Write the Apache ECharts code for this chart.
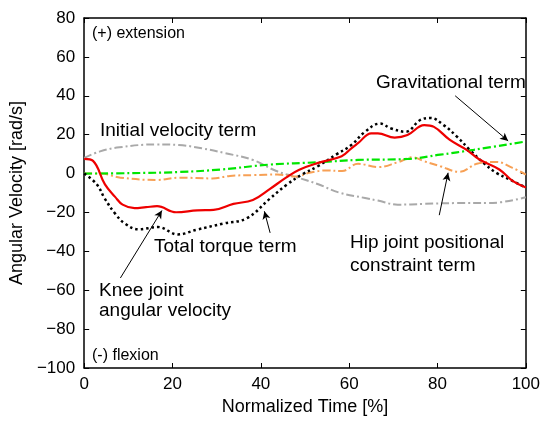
<!DOCTYPE html>
<html>
<head>
<meta charset="utf-8">
<script src="https://cdn.jsdelivr.net/npm/echarts@6/dist/echarts.min.js"></script>
<style>
  html, body { margin: 0; padding: 0; background: #fff; }
  #main { width: 543px; height: 421px; }
</style>
</head>
<body>
<div id="main"></div>
<script>
// knee joint angular velocity (red)
var kneeT = [0, 2, 4.7, 7, 8.7, 11.4, 14, 16.5, 20.8, 25.6, 29.3, 33.8, 38.2, 42, 45.7, 48.7, 53, 58.3, 60.5, 62, 65, 66.5, 70.3, 73.2, 77, 79.2, 82.8, 86.6, 89.5, 94, 97, 100];
var kneeV = [7.5, 6.5, -5.6, -12, -16, -17.8, -17.3, -16.8, -19.9, -18.9, -18.7, -15.6, -13.6, -8, -2.1, 2, 5.5, 8.9, 13, 15.6, 20.7, 20.7, 18.5, 19.8, 24.9, 24, 17.3, 12.2, 7.2, 2.1, -3.8, -7.2];
// total torque term (black dotted)
var torqueT = [0, 2.8, 4.7, 7, 9.2, 12.3, 16.7, 21.2, 25.6, 31.5, 36.8, 42, 45.7, 49.4, 53, 57, 60.5, 63.5, 67, 69.5, 72.8, 76, 78.4, 81.4, 84.4, 87.3, 90.4, 93.3, 97, 100];
var torqueV = [0, -5.4, -13, -20.6, -25.7, -28.7, -27.5, -31.3, -28.8, -25.7, -23, -13, -6, -0.4, 3.9, 9.7, 14.7, 21.3, 25.7, 23.2, 21.5, 27.4, 28.6, 24.9, 19, 12.2, 5.5, 0.4, -3.8, -7.2];
// initial velocity term (gray)
var initT = [0, 3.6, 8, 16.3, 21.4, 26.6, 31.9, 38.2, 43.5, 48, 53, 57.6, 63.6, 66.5, 71, 77, 84.4, 91.7, 100];
var initV = [8, 11.4, 13.5, 15, 14.7, 13, 10.5, 7, 1.3, -1.8, -5.5, -9.7, -12.6, -13.9, -16, -15.6, -15.2, -15.2, -12.2];
// gravitational term (green)
var gravT = [0, 10.5, 21.6, 31, 42, 53, 62, 73.3, 80.6, 88.2, 100];
var gravV = [0, 0.2, 0.8, 2.1, 4.6, 5.8, 7, 7.5, 9.7, 12.2, 16.5];
// hip joint positional constraint term (orange)
var hipT = [0, 3.8, 8.2, 16.5, 21.6, 29, 33, 38.3, 43.7, 48, 51, 54.8, 58.4, 62, 66.6, 71, 74.4, 77, 80.6, 85, 88.9, 93.3, 97, 100];
var hipV = [0, 0, -2.1, -3.3, -2.1, -2.5, -1.2, -0.8, -0.5, -1.5, 0.4, 1.6, 1.3, 5, 3.3, 5.8, 8.4, 6.3, 3.8, 0.9, 5, 6, 2.9, -0.5];

// arrows: [start, end] in data coordinates
var arrowGrav = [[84, 40], [96, 16.8]];
var arrowTorque = [[42.1, -30.5], [40.8, -19.4]];
var arrowHip = [[80.4, -21.4], [82.4, 0.4]];
var arrowKnee = [[8.2, -53.7], [17.6, -19]];

function pairs(t, v) {
  var out = [];
  for (var i = 0; i < t.length; i++) out.push([t[i], v[i]]);
  return out;
}

var font = 'Liberation Sans, Arial, sans-serif';
var chart = echarts.init(document.getElementById('main'));

function axisBase(show) {
  return {
    type: 'value',
    axisLine: { show: true, onZero: false, lineStyle: { color: '#000', width: 1.5 } },
    axisTick: { show: true, inside: true, length: 5, lineStyle: { color: '#000' } },
    axisLabel: { show: show, color: '#000', fontSize: 17, fontFamily: font },
    splitLine: { show: false }
  };
}

var xBottom = axisBase(true);
xBottom.min = 0; xBottom.max = 100; xBottom.interval = 20; xBottom.position = 'bottom';
xBottom.name = 'Normalized Time [%]';
xBottom.nameLocation = 'middle';
xBottom.nameGap = 30;
xBottom.nameTextStyle = { color: '#000', fontSize: 18, fontFamily: font };
xBottom.axisLabel.margin = 8;
var xTop = axisBase(false);
xTop.min = 0; xTop.max = 100; xTop.interval = 20; xTop.position = 'top';

var yLeft = axisBase(true);
yLeft.min = -100; yLeft.max = 80; yLeft.interval = 20; yLeft.position = 'left';
yLeft.name = 'Angular Velocity [rad/s]';
yLeft.nameLocation = 'middle';
yLeft.nameGap = 50;
yLeft.nameTextStyle = { color: '#000', fontSize: 18, fontFamily: font };
yLeft.axisLabel.margin = 9;
yLeft.axisLabel.formatter = function (v) { return String(v).replace('-', '\u2212'); };
var yRight = axisBase(false);
yRight.min = -100; yRight.max = 80; yRight.interval = 20; yRight.position = 'right';

function arrowLine(a) {
  return [{ coord: a[0] }, { coord: a[1] }];
}

var option = {
  backgroundColor: '#fff',
  animation: false,
  grid: { left: 81, right: 13, top: 18, bottom: 48 },
  xAxis: [xBottom, xTop],
  yAxis: [yLeft, yRight],
  series: [
    {
      name: 'Initial velocity term', type: 'line', showSymbol: false, smooth: 0.4,
      data: pairs(initT, initV),
      lineStyle: { color: '#a9a9a9', width: 2, type: [8, 3, 2, 3] }
    },
    {
      name: 'Hip joint positional constraint term', type: 'line', showSymbol: false, smooth: 0.4,
      data: pairs(hipT, hipV),
      lineStyle: { color: '#f7a055', width: 2, type: [8, 3, 2, 3] }
    },
    {
      name: 'Gravitational term', type: 'line', showSymbol: false, smooth: 0.4,
      data: pairs(gravT, gravV),
      lineStyle: { color: '#00e600', width: 2.2, type: [8, 3, 2, 3] }
    },
    {
      name: 'Total torque term', type: 'line', showSymbol: false, smooth: 0.4,
      data: pairs(torqueT, torqueV),
      lineStyle: { color: '#000', width: 2.5, type: [2.5, 3] }
    },
    {
      name: 'Knee joint angular velocity', type: 'line', showSymbol: false, smooth: 0.4,
      data: pairs(kneeT, kneeV),
      lineStyle: { color: '#ee0000', width: 2.2 },
      markLine: {
        silent: true,
        symbol: ['none', 'arrow'],
        symbolSize: [6, 8],
        label: { show: false },
        lineStyle: { color: '#000', width: 1, type: 'solid' },
        data: [arrowLine(arrowGrav), arrowLine(arrowTorque), arrowLine(arrowHip), arrowLine(arrowKnee)]
      }
    }
  ],
  graphic: [
    { type: 'text', left: 92, top: 26, style: { text: '(+) extension', font: '16px ' + font, fill: '#000' } },
    { type: 'text', left: 92, top: 348, style: { text: '(-) flexion', font: '16px ' + font, fill: '#000' } },
    { type: 'text', left: 376, top: 73, style: { text: 'Gravitational term', font: '19px ' + font, fill: '#000' } },
    { type: 'text', left: 100, top: 121, style: { text: 'Initial velocity term', font: '19px ' + font, fill: '#000' } },
    { type: 'text', left: 154, top: 237, style: { text: 'Total torque term', font: '19px ' + font, fill: '#000' } },
    { type: 'text', left: 350, top: 231, style: { text: 'Hip joint positional\nconstraint term', font: '19px ' + font, fill: '#000', lineHeight: 23 } },
    { type: 'text', left: 99, top: 281, style: { text: 'Knee joint\nangular velocity', font: '19px ' + font, fill: '#000', lineHeight: 20 } }
  ]
};
chart.setOption(option);
</script>
</body>
</html>
